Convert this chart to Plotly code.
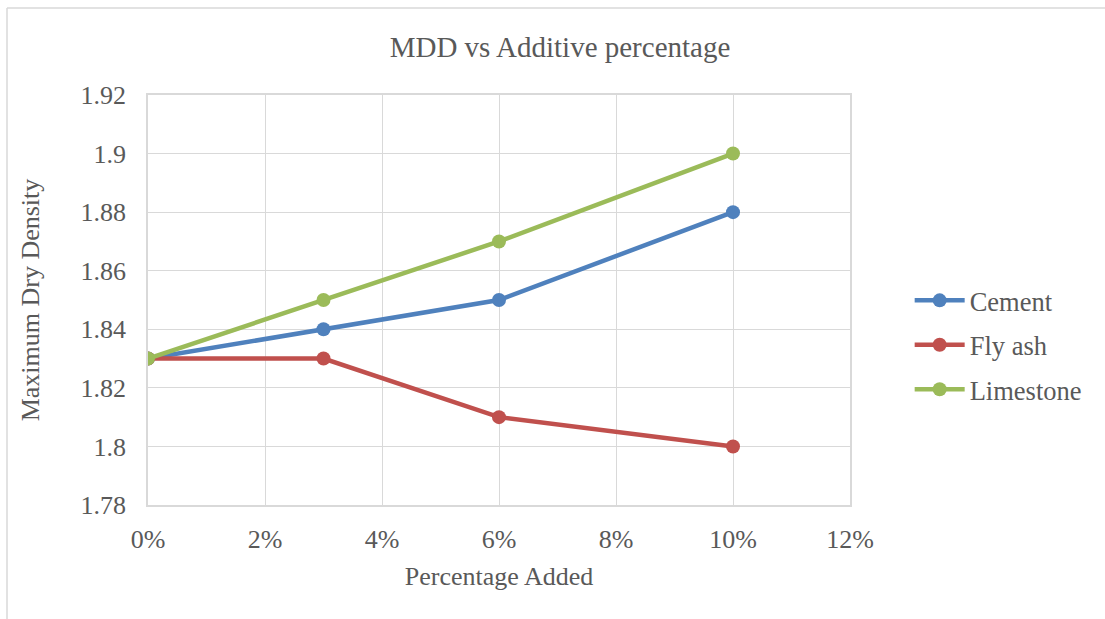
import plotly.graph_objects as go

x_pct = [0, 3, 6, 10]
cement = [1.83, 1.84, 1.85, 1.88]
fly_ash = [1.83, 1.83, 1.81, 1.80]
limestone = [1.83, 1.85, 1.87, 1.90]
series_names = ["Cement", "Fly ash", "Limestone"]
colors = ["#4F81BD", "#C0504D", "#9BBB59"]

x_ticks = [0, 2, 4, 6, 8, 10, 12]
x_tick_labels = ["0%", "2%", "4%", "6%", "8%", "10%", "12%"]
y_ticks = [1.78, 1.80, 1.82, 1.84, 1.86, 1.88, 1.90, 1.92]
y_tick_labels = ["1.78", "1.8", "1.82", "1.84", "1.86", "1.88", "1.9", "1.92"]

font = "Liberation Serif, Times New Roman, serif"
fig = go.Figure()
for i, (name, ys) in enumerate(zip(series_names, [cement, fly_ash, limestone])):
    fig.add_trace(go.Scatter(
        x=x_pct, y=ys, name=name, mode="lines+markers",
        line=dict(color=colors[i], width=4.5),
        marker=dict(color=colors[i], size=14),
        legendgroup=name,
    ))

fig.update_layout(
    width=1105, height=619,
    margin=dict(l=148, r=255, t=95, b=114),
    paper_bgcolor="white", plot_bgcolor="white",
    font=dict(family=font, color="#595959", size=26),
    title=dict(text="MDD vs Additive percentage", x=(560-148)/702, xref="paper", y=0.924,
               xanchor="center", yanchor="middle",
               font=dict(family=font, size=29, color="#595959")),
    showlegend=True,
    legend=dict(x=1.085, y=0.39, xanchor="left", yanchor="middle",
                font=dict(family=font, size=26.5, color="#595959"),
                tracegroupgap=7, itemwidth=50),
    shapes=[
        dict(type="line", xref="paper", yref="paper", x0=-141/702, x1=-141/702,
             y0=(619-114-8)/410, y1=-114/410, line=dict(color="#D9D9D9", width=1.5)),
        dict(type="line", xref="paper", yref="paper", x0=-141/702, x1=(1105-148)/702,
             y0=(619-114-8)/410, y1=(619-114-8)/410, line=dict(color="#D9D9D9", width=1.5)),
    ],
)
fig.update_xaxes(
    range=[0, 12], tickvals=x_ticks, ticktext=x_tick_labels,
    showgrid=True, gridcolor="#D9D9D9", gridwidth=1,
    showline=True, linecolor="#D9D9D9", linewidth=1.5, mirror=True,
    ticks="", zeroline=False, ticklabelstandoff=10,
    title=dict(text="Percentage Added", standoff=14, font=dict(size=26, color="#595959")),
)
fig.update_yaxes(
    range=[1.78, 1.92], tickvals=y_ticks, ticktext=y_tick_labels,
    showgrid=True, gridcolor="#D9D9D9", gridwidth=1,
    showline=True, linecolor="#D9D9D9", linewidth=1.5, mirror=True,
    ticks="", zeroline=False, ticklabelstandoff=15,
    title=dict(text="Maximum Dry Density", standoff=33, font=dict(size=26, color="#595959")),
)

fig.write_html("out.html")
